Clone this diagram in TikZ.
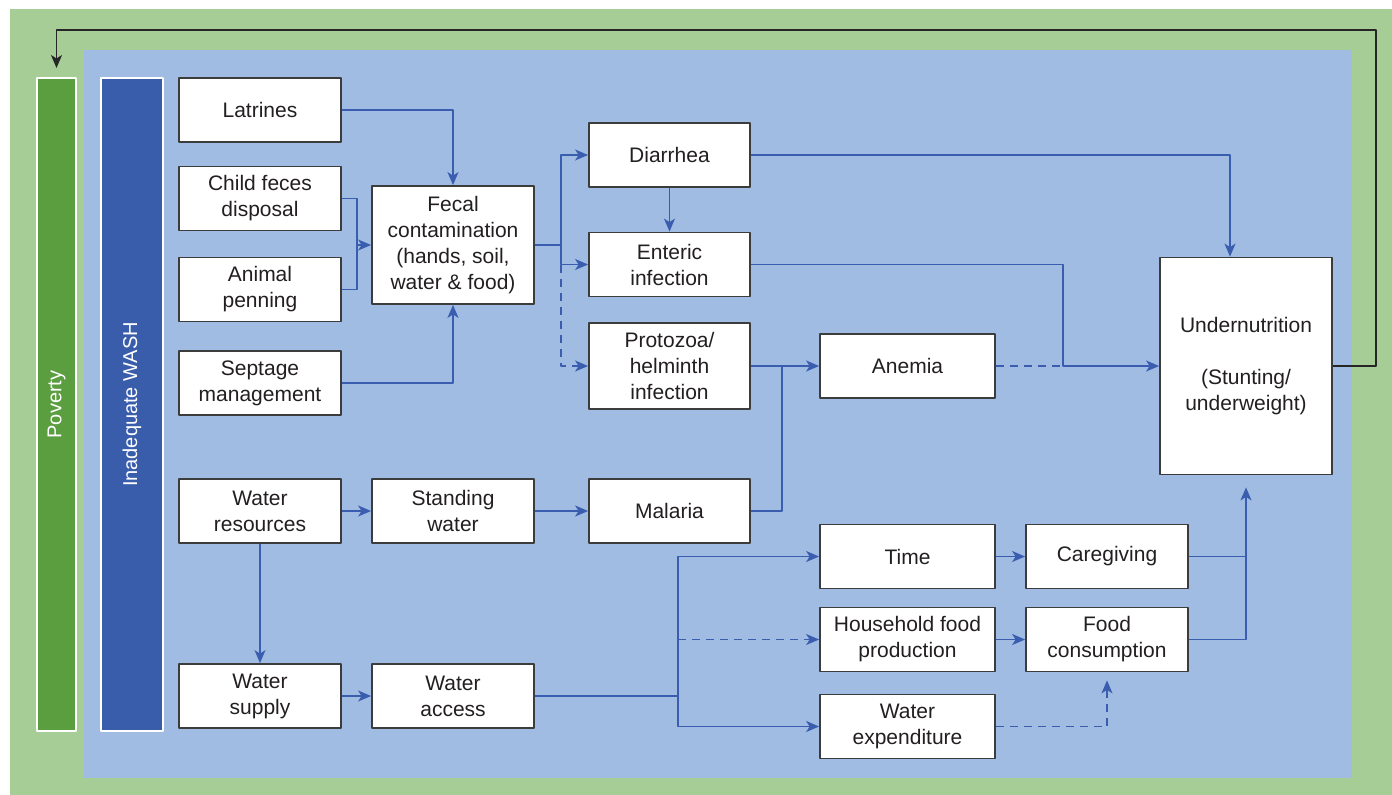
\documentclass[tikz,border=0pt]{standalone}
\usepackage{fontspec}
\setmainfont{Liberation Sans}
\usetikzlibrary{arrows.meta}
\definecolor{outgreen}{RGB}{166,205,150}
\definecolor{bgblue}{RGB}{160,188,226}
\definecolor{povgreen}{RGB}{91,158,64}
\definecolor{washblue}{RGB}{58,93,171}
\definecolor{linkblue}{RGB}{58,93,176}
\definecolor{boxgray}{RGB}{60,60,60}
\definecolor{txtgray}{RGB}{35,31,32}
\begin{document}
\begin{tikzpicture}[x=1pt,y=-1pt,line join=round,>={Stealth[length=13pt,width=11pt,inset=3.5pt]}]
            \tikzset{box/.style={draw=boxgray,line width=1.8pt,fill=white,text=txtgray,inner sep=0pt,align=center,
                minimum width=162pt,minimum height=64pt,font=\fontsize{21}{26}\selectfont},
                link/.style={draw=linkblue,line width=1.5pt},
                dashlink/.style={link,dash pattern=on 8pt off 6pt},
                bar/.style={draw=white,line width=2pt,rotate=90,text=white,minimum height=39pt,minimum width=653pt,
                font=\fontsize{20}{24}\selectfont}}
            \useasboundingbox (0,0) rectangle (1392,795);
            \fill[outgreen] (10,9) rectangle (1392,795);
            \fill[bgblue] (84,50) rectangle (1352,778);
            \node[bar,fill=povgreen] (pov) at (56.5,404.5) {Poverty};
            \node[bar,fill=washblue,minimum height=62pt] (wash) at (132,404.5) {Inadequate WASH};
            \node[box] (latr) at (260,110) {Latrines};
            \node[box] (child) at (260,198.5) {Child feces\\disposal};
            \node[box] (animal) at (260,289.5) {Animal\\penning};
            \node[box] (sept) at (260,383) {Septage\\management};
            \node[box] (wres) at (260,511) {Water\\resources};
            \node[box] (wsup) at (260,696) {Water\\supply};
            \node[box,minimum height=118pt] (fecal) at (453,245) {Fecal\\contamination\\(hands, soil,\\water \& food)};
            \node[box] (stand) at (453,511) {Standing\\water};
            \node[box] (wacc) at (453,696) {Water\\access};
            \node[box,minimum width=161pt] (diar) at (669.5,155) {Diarrhea};
            \node[box,minimum width=161pt] (enter) at (669.5,264.5) {Enteric\\infection};
            \node[box,minimum width=161pt,minimum height=86pt] (proto) at (669.5,366) {Protozoa/\\helminth\\infection};
            \node[box,minimum width=161pt] (mal) at (669.5,511) {Malaria};
            \node[box,minimum width=175pt] (anem) at (907.5,366) {Anemia};
            \node[box,minimum width=175pt] (time) at (907.5,556.5) {Time};
            \node[box,minimum width=175pt] (hfood) at (907.5,639.5) {Household food\\production};
            \node[box,minimum width=175pt] (wexp) at (907.5,726.5) {Water\\expenditure};
            \node[box] (care) at (1107,556.5) {Caregiving};
            \node[box] (food) at (1107,639.5) {Food\\consumption};
            \node[box,minimum width=172pt,minimum height=217pt] (under) at (1246,366) {Undernutrition\\[26pt](Stunting/\\underweight)};
            \coordinate (jf) at (357,245);
            \coordinate (jd) at (561,245);
            \coordinate (jm) at (782,366);
            \coordinate (ja) at (1063,366);
            \coordinate (jw) at (678,696);
            \coordinate (jt) at (1230,155);
            \coordinate (fb) at (1376,30);
            \draw[link,->] (latr.east) -| (fecal.north);
            \draw[link] (child.east) -| (jf);
            \draw[link] (animal.east) -| (jf);
            \draw[link,->] (jf) -- (fecal.west);
            \draw[link,->] (sept.east) -| (fecal.south);
            \draw[link] (fecal.east) -- (jd);
            \draw[link,->] (jd) |- (diar.west);
            \draw[link,->] (jd) |- (enter.west);
            \draw[dashlink,->] (jd |- enter.west) |- (proto.west);
            \draw[link,->] (diar.south) -- (enter.north);
            \draw[link,->] (diar.east) -- (jt) -- (jt |- under.north);
            \draw[link,->] (enter.east) -| (ja) -- (under.west);
            \draw[dashlink] (anem.east) -- (ja);
            \draw[link,->] (proto.east) -- (anem.west);
            \draw[link] (mal.east) -| (jm);
            \draw[link,->] (wres.east) -- (stand.west);
            \draw[link,->] (stand.east) -- (mal.west);
            \draw[link,->] (wres.south) -- (wsup.north);
            \draw[link,->] (wsup.east) -- (wacc.west);
            \draw[link] (wacc.east) -- (jw);
            \draw[link,->] (jw) |- (time.west);
            \draw[link,->] (jw) |- (wexp.west);
            \draw[dashlink,->] (jw |- hfood.west) -- (hfood.west);
            \draw[link,->] (time.east) -- (care.west);
            \draw[link,->] (hfood.east) -- (food.west);
            \draw[dashlink,->,shorten >=8pt] (wexp.east) -| (food.south);
            \draw[link] (care.east) -- (care.east -| under.south);
            \draw[link,->,shorten >=12pt] (food.east) -| (under.south);
            \draw[line width=1.3pt,black!85,->,shorten >=9pt] (under.east) -| (fb) -| (pov.east);
        \end{tikzpicture}
\end{document}
